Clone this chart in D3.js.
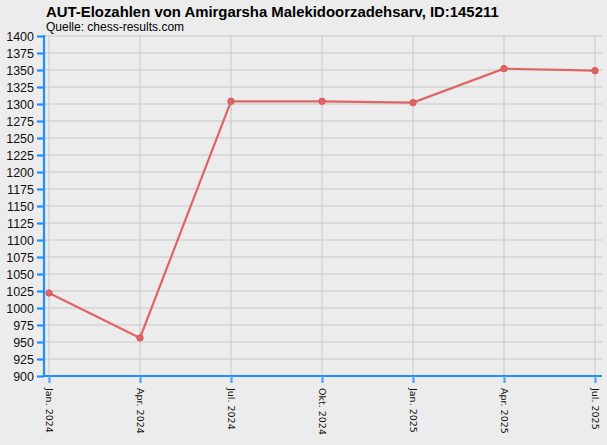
<!DOCTYPE html>
<html>
<head>
<meta charset="utf-8">
<script src="https://cdn.jsdelivr.net/npm/d3@7"></script>
<style>
  body { margin: 0; background: #ececec; }
  svg { display: block; font-family: "Liberation Sans", Arial, sans-serif; }
</style>
</head>
<body>
<svg width="607" height="445"></svg>
<script>
// chart data
var months = ['Jan. 2024', 'Apr. 2024', 'Jul. 2024', 'Okt. 2024', 'Jan. 2025', 'Apr. 2025', 'Jul. 2025'];
var elo = [1022, 956, 1304, 1304, 1302, 1352, 1349];
var yTicks = d3.range(900, 1401, 25);

var svg = d3.select('svg');
svg.append('rect').attr('width', 607).attr('height', 445).style('fill', '#ececec');

var plotLeft = 44, plotRight = 602, plotTop = 36, plotBottom = 376;
var x = d3.scalePoint().domain(months).range([49, 595]);
var y = d3.scaleLinear().domain([900, 1400]).range([plotBottom, plotTop]);

// Title
svg.append('text').attr('x', 46).attr('y', 17).style('font-size', '14.9px').style('font-weight', 'bold')
  .text('AUT-Elozahlen von Amirgarsha Malekidoorzadehsarv, ID:145211');
svg.append('text').attr('x', 46).attr('y', 31).style('font-size', '12px')
  .text('Quelle: chess-results.com');

// Grid
var grid = svg.append('g');
grid.selectAll('.hg').data(yTicks).enter().append('line')
  .attr('x1', plotLeft).attr('x2', plotRight).attr('y1', function(d){ return y(d); }).attr('y2', function(d){ return y(d); })
  .style('stroke', '#c8c8c8').style('stroke-width', 1);
grid.selectAll('.vg').data(months).enter().append('line')
  .attr('x1', function(d){ return x(d); }).attr('x2', function(d){ return x(d); }).attr('y1', plotTop).attr('y2', plotBottom)
  .style('stroke', '#c8c8c8').style('stroke-width', 1);

// Y axis
var yAxis = svg.append('g').attr('transform', 'translate(' + plotLeft + ',0)')
  .call(d3.axisLeft(y).tickValues(yTicks).tickFormat(d3.format('d')).tickSize(7).tickPadding(3));
yAxis.select('.domain').attr('d', 'M0,' + (plotTop - 1) + 'V' + (plotBottom + 1)).style('stroke', '#1e8fff').style('stroke-width', 2.2);
yAxis.selectAll('.tick line').style('stroke', '#1e8fff').style('stroke-width', 2.2);
yAxis.selectAll('.tick text').style('font-size', '12.5px').style('fill', '#111').style('font-family', '"Liberation Sans", Arial, sans-serif');

// X axis
var xAxis = svg.append('g').attr('transform', 'translate(0,' + plotBottom + ')')
  .call(d3.axisBottom(x).tickSize(7).tickPadding(4));
xAxis.select('.domain').attr('d', 'M' + (plotLeft - 1) + ',0H' + plotRight).style('stroke', '#1e8fff').style('stroke-width', 2.2);
xAxis.selectAll('.tick line').style('stroke', '#4aa6ff').style('stroke-width', 2.2);
xAxis.selectAll('.tick text')
  .attr('transform', 'rotate(90)').attr('x', 12).attr('y', 0).attr('dy', '0.35em')
  .style('text-anchor', 'start').style('font-size', '9.5px').style('fill', '#111')
  .style('font-family', '"DejaVu Sans", sans-serif');

// Line and points
var line = d3.line().x(function(d, i){ return x(months[i]); }).y(function(d){ return y(d); });
svg.append('path').datum(elo).attr('d', line)
  .style('fill', 'none').style('stroke', '#e06464').style('stroke-width', 2.2);
svg.selectAll('.pt').data(elo).enter().append('circle')
  .attr('cx', function(d, i){ return x(months[i]); }).attr('cy', function(d){ return y(d); }).attr('r', 3.2)
  .style('fill', '#e06464').style('stroke', '#d85a5a');
</script>
</body>
</html>
